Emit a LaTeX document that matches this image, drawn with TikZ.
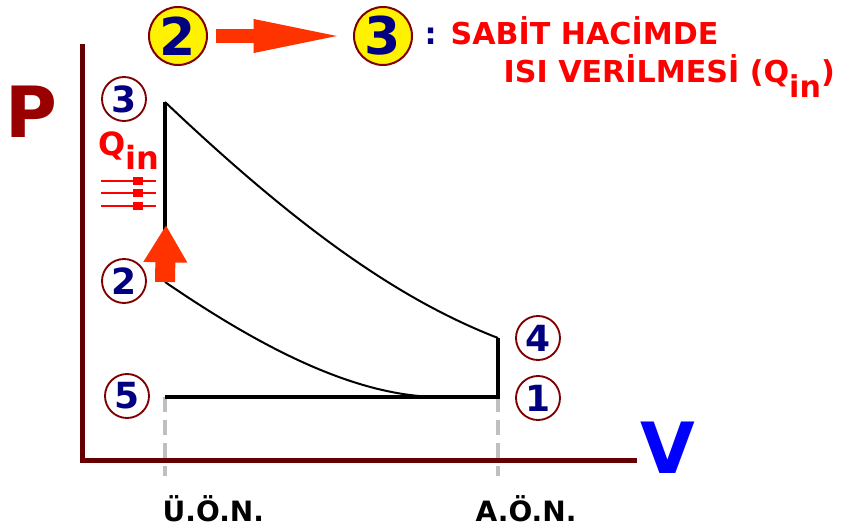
\documentclass[tikz,border=0pt]{standalone}
\usepackage{fontspec}
\setmainfont{DejaVu Sans}
\usepackage{xcolor}
\definecolor{eksen}{RGB}{102,0,0}
\definecolor{bordo}{RGB}{128,0,0}
\definecolor{lacivert}{RGB}{0,0,128}
\definecolor{turuncu}{RGB}{255,51,0}
\definecolor{pkirmizi}{RGB}{153,0,0}
\usetikzlibrary{arrows.meta, positioning, calc}

\begin{document}
\begin{tikzpicture}[x=0.75pt, y=-0.75pt,
    nokta/.style={circle, draw=bordo, line width=1.4pt, fill=white, minimum size=33pt,
        inner sep=0pt, text=lacivert, font=\fontsize{27}{27}\selectfont\bfseries},
    buyuk/.style={circle, draw=bordo, line width=1.5pt, fill=yellow, minimum size=43.5pt,
        inner sep=0pt, text=lacivert, font=\fontsize{39}{39}\selectfont\bfseries},
    yazi/.style={anchor=base west, text=red, font=\fontsize{22.6}{22.6}\selectfont\bfseries},
    egri/.style={line width=1.5pt},
    duz/.style={line width=2.4pt},
    kesik/.style={gray!50, line width=2.5pt, dash pattern=on 11.25pt off 6pt}]
    \useasboundingbox (0,0) rectangle (859,528);

    % Eksenler
    \draw[eksen, line width=3.75pt] (82,44) -- (82,460) -- (637,460);
    \node[text=pkirmizi, font=\fontsize{53}{53}\selectfont\bfseries, anchor=base] (P) at (31,137) {P};
    \node[text=blue, font=\fontsize{53}{53}\selectfont\bfseries, anchor=base] (V) at (668,473) {V};

    % Durum noktalari
    \coordinate (p1) at (498,397);
    \coordinate (p2) at (165,282);
    \coordinate (p3) at (165,102);
    \coordinate (p4) at (498,338);
    \coordinate (p5) at (165,397);
    \coordinate (uon) at (165,476);
    \coordinate (aon) at (498,476);
    \coordinate (qok) at (166,225);

    % Olu noktalar (kesikli)
    \draw[kesik] (p5) -- (uon);
    \draw[kesik] (p1) -- (aon);

    % Cevrim
    \draw[duz] (p3) -- (p2);
    \draw[egri] (p3) .. controls (300,230) and (400,300) .. (p4);
    \draw[duz] (p4) -- (p1) -- (p5);
    \draw[egri] (p2) .. controls (250,340) and (350,397) .. (440,397) -- (p1);

    % Isi girisi
    \draw[turuncu, line width=15pt, -{Triangle[length=28pt, width=31pt]}] (p2) -- (qok);
    \node[anchor=base west, text=red, font=\fontsize{24}{24}\selectfont\bfseries] (qin) at (94,155) {Q\raisebox{-11pt}{in}};
    \foreach \y in {181,193,206} {
        \draw[red, line width=1.5pt] (101,\y) -- (156,\y);
        \fill[red] (133,\y-4) rectangle (143,\y+4);
    }

    % Numaralar
    \node[nokta] (c1) at (538,398) {1};
    \node[nokta] (c2) at (124,281) {2};
    \node[nokta] (c3) at (124,99) {3};
    \node[nokta] (c4) at (538,338) {4};
    \node[nokta] (c5) at (127,396) {5};

    % Baslik
    \node[buyuk] (y2) at (178,36) {2};
    \node[buyuk] (y3) at (383,36) {3};
    \draw[turuncu, line width=10.5pt, -{Triangle[length=70pt, width=22pt]},
        shorten <=6pt, shorten >=4.5pt] (y2) -- (y3);
    \node[anchor=base west, text=lacivert, font=\fontsize{22.6}{22.6}\selectfont\bfseries] (ikinokta) at (420,45) {:};
    \node[yazi] (baslik1) at (446,45) {SABİT HACİMDE};
    \node[yazi] (baslik2) at (499,83) {ISI VERİLMESİ (Q\raisebox{-10.5pt}{in})};

    % Olu nokta adlari
    \node[anchor=base west, font=\fontsize{21}{21}\selectfont\bfseries] (uonyazi) at (158,521) {Ü.Ö.N.};
    \node[anchor=base west, font=\fontsize{21}{21}\selectfont\bfseries] (aonyazi) at (471,521) {A.Ö.N.};
\end{tikzpicture}
\end{document}
